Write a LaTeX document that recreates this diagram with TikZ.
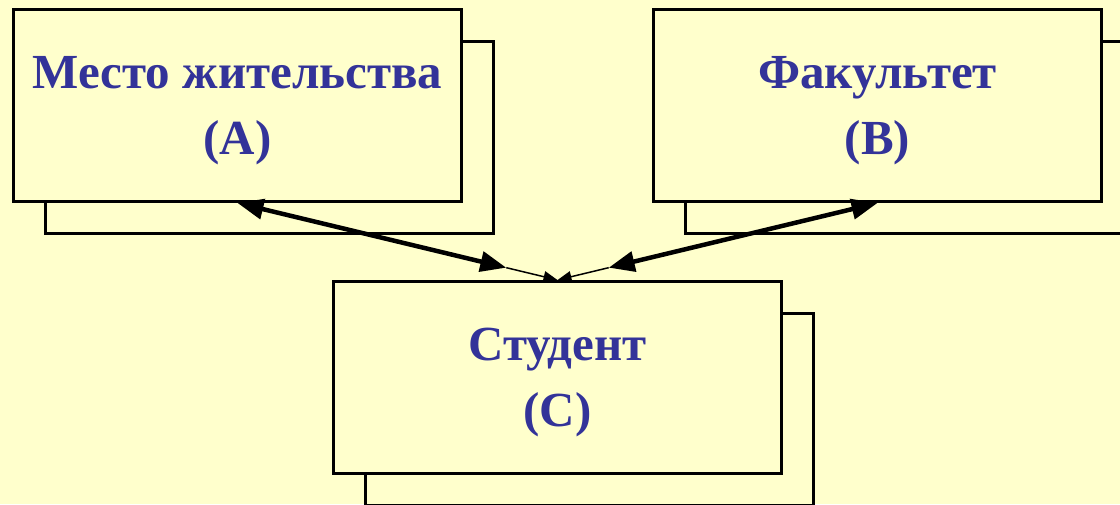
\documentclass[tikz,border=0pt]{standalone}
\usepackage{fontspec}
\setmainfont{Liberation Serif}
\usetikzlibrary{arrows.meta,calc}
\definecolor{bg}{HTML}{FFFFCC}
\definecolor{txt}{HTML}{333399}
\tikzset{
  card/.style={draw=black, line width=3pt, fill=bg, minimum width=448pt, minimum height=192pt,
    anchor=north west, inner sep=0pt},
  lbl/.style={align=center, text=txt, inner sep=0pt,
    font=\fontsize{49}{66}\selectfont\bfseries},
  thickarr/.style={line width=4.5pt, {Triangle[length=26pt,width=20pt]}-{Triangle[length=26pt,width=20pt]}},
  thinarr/.style={line width=1.5pt, -{Triangle[length=14pt,width=11pt]}}
}
\begin{document}
\begin{tikzpicture}[x=1pt,y=-1pt]
\clip (0,0) rectangle (1120,504);
\useasboundingbox (0,0) rectangle (1120,504);
\fill[bg] (0,0) rectangle (1120,504);
\node[card] (Ab) at (44,40) {};
\node[card] (A) at (12,8) {};
\node[lbl] (At) at ([yshift=-5pt]A.center) {Место жительства\\(A)};
\node[card] (Bb) at (684,40) {};
\node[card] (B) at (652,8) {};
\node[lbl] (Bt) at ([yshift=-5pt]B.center) {Факультет\\(B)};
\node[card] (Cb) at (364,312) {};
\node[card] (C) at (332,280) {};
\node[lbl] (Ct) at ([yshift=-5pt]C.center) {Студент\\(C)};
\coordinate (ja) at ($(A.south)!0.84!(C.north)$);
\coordinate (jb) at ($(B.south)!0.84!(C.north)$);
\draw[thickarr] (A.south) -- (ja);
\draw[thinarr] (ja) -- (C.north);
\draw[thickarr] (B.south) -- (jb);
\draw[thinarr] (jb) -- (C.north);
\end{tikzpicture}
\end{document}
